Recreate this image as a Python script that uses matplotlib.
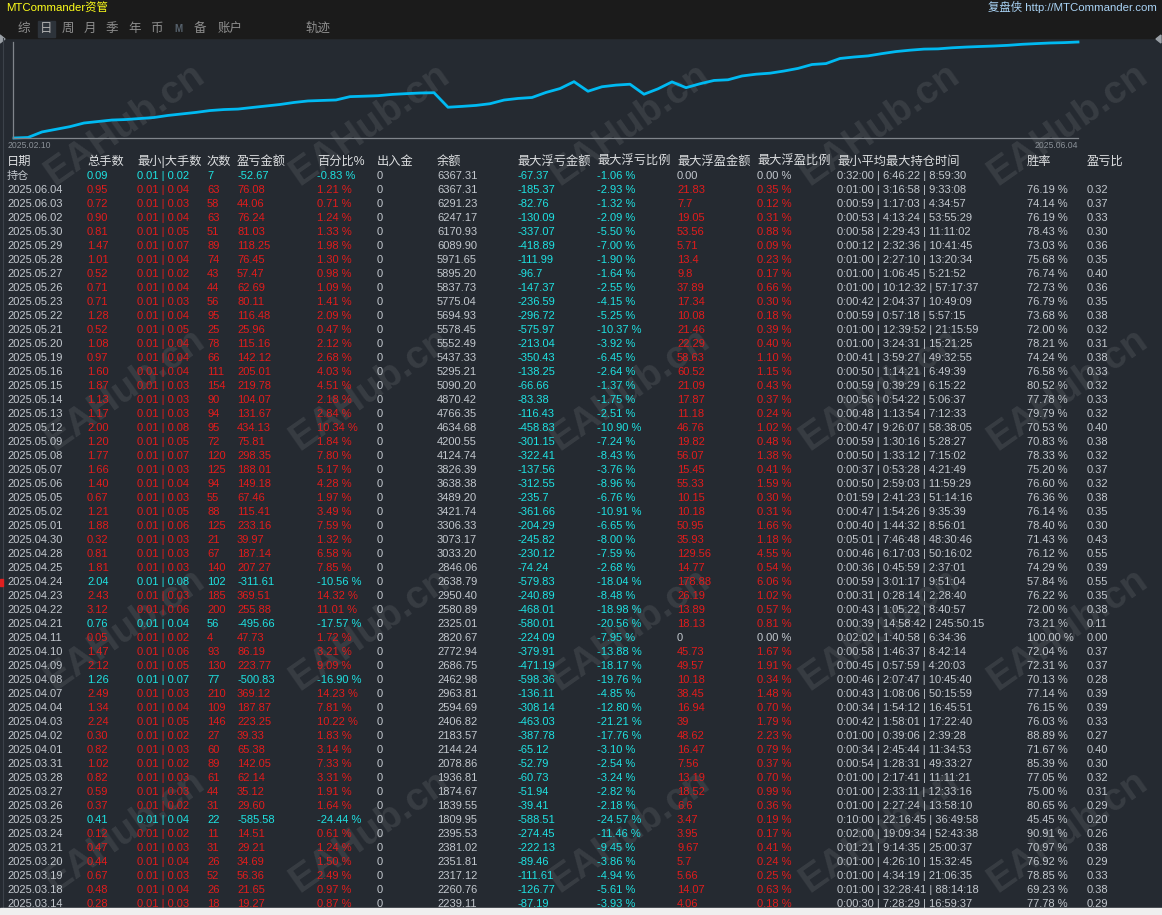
import matplotlib
matplotlib.use('Agg')
import matplotlib.pyplot as plt
from matplotlib.patches import Rectangle, Polygon
from matplotlib.ticker import NullLocator

plt.rcParams['font.family'] = ['Liberation Sans', 'Noto Sans CJK SC']

# ---- daily table, newest first ----
dates = ['2025.06.04', '2025.06.03', '2025.06.02', '2025.05.30', '2025.05.29', '2025.05.28', '2025.05.27',
         '2025.05.26', '2025.05.23', '2025.05.22', '2025.05.21', '2025.05.20', '2025.05.19', '2025.05.16',
         '2025.05.15', '2025.05.14', '2025.05.13', '2025.05.12', '2025.05.09', '2025.05.08', '2025.05.07',
         '2025.05.06', '2025.05.05', '2025.05.02', '2025.05.01', '2025.04.30', '2025.04.28', '2025.04.25',
         '2025.04.24', '2025.04.23', '2025.04.22', '2025.04.21', '2025.04.11', '2025.04.10', '2025.04.09',
         '2025.04.08', '2025.04.07', '2025.04.04', '2025.04.03', '2025.04.02', '2025.04.01', '2025.03.31',
         '2025.03.28', '2025.03.27', '2025.03.26', '2025.03.25', '2025.03.24', '2025.03.21', '2025.03.20',
         '2025.03.19', '2025.03.18', '2025.03.14']
lots = ['0.95', '0.72', '0.90', '0.81', '1.47', '1.01', '0.52', '0.71', '0.71', '1.28', '0.52', '1.08', '0.97',
        '1.60', '1.87', '1.13', '1.17', '2.00', '1.20', '1.77', '1.66', '1.40', '0.67', '1.21', '1.88', '0.32',
        '0.81', '1.81', '2.04', '2.43', '3.12', '0.76', '0.05', '1.47', '2.12', '1.26', '2.49', '1.34', '2.24',
        '0.30', '0.82', '1.02', '0.82', '0.59', '0.37', '0.41', '0.12', '0.47', '0.44', '0.67', '0.48', '0.28']
max_lot = ['0.04', '0.03', '0.04', '0.05', '0.07', '0.04', '0.02', '0.04', '0.03', '0.04', '0.05', '0.04', '0.04',
           '0.04', '0.03', '0.03', '0.03', '0.08', '0.05', '0.07', '0.03', '0.04', '0.03', '0.05', '0.06', '0.03',
           '0.03', '0.03', '0.08', '0.03', '0.06', '0.04', '0.02', '0.06', '0.05', '0.07', '0.03', '0.04', '0.05',
           '0.02', '0.03', '0.02', '0.03', '0.03', '0.02', '0.04', '0.02', '0.03', '0.04', '0.03', '0.04', '0.03']
trades = ['63', '58', '63', '51', '89', '74', '43', '44', '56', '95', '25', '78', '66', '111', '154', '90', '94',
          '95', '72', '120', '125', '94', '55', '88', '125', '21', '67', '140', '102', '185', '200', '56', '4',
          '93', '130', '77', '210', '109', '146', '27', '60', '89', '61', '44', '31', '22', '11', '31', '26', '52',
          '26', '18']
pnl = ['76.08', '44.06', '76.24', '81.03', '118.25', '76.45', '57.47', '62.69', '80.11', '116.48', '25.96',
       '115.16', '142.12', '205.01', '219.78', '104.07', '131.67', '434.13', '75.81', '298.35', '188.01',
       '149.18', '67.46', '115.41', '233.16', '39.97', '187.14', '207.27', '-311.61', '369.51', '255.88',
       '-495.66', '47.73', '86.19', '223.77', '-500.83', '369.12', '187.87', '223.25', '39.33', '65.38',
       '142.05', '62.14', '35.12', '29.60', '-585.58', '14.51', '29.21', '34.69', '56.36', '21.65', '19.27']
pnl_pct = ['1.21 %', '0.71 %', '1.24 %', '1.33 %', '1.98 %', '1.30 %', '0.98 %', '1.09 %', '1.41 %', '2.09 %',
           '0.47 %', '2.12 %', '2.68 %', '4.03 %', '4.51 %', '2.18 %', '2.84 %', '10.34 %', '1.84 %', '7.80 %',
           '5.17 %', '4.28 %', '1.97 %', '3.49 %', '7.59 %', '1.32 %', '6.58 %', '7.85 %', '-10.56 %', '14.32 %',
           '11.01 %', '-17.57 %', '1.72 %', '3.21 %', '9.09 %', '-16.90 %', '14.23 %', '7.81 %', '10.22 %',
           '1.83 %', '3.14 %', '7.33 %', '3.31 %', '1.91 %', '1.64 %', '-24.44 %', '0.61 %', '1.24 %', '1.50 %',
           '2.49 %', '0.97 %', '0.87 %']
balance = [6367.31, 6291.23, 6247.17, 6170.93, 6089.90, 5971.65, 5895.20, 5837.73, 5775.04, 5694.93, 5578.45,
           5552.49, 5437.33, 5295.21, 5090.20, 4870.42, 4766.35, 4634.68, 4200.55, 4124.74, 3826.39, 3638.38,
           3489.20, 3421.74, 3306.33, 3073.17, 3033.20, 2846.06, 2638.79, 2950.40, 2580.89, 2325.01, 2820.67,
           2772.94, 2686.75, 2462.98, 2963.81, 2594.69, 2406.82, 2183.57, 2144.24, 2078.86, 1936.81, 1874.67,
           1839.55, 1809.95, 2395.53, 2381.02, 2351.81, 2317.12, 2260.76, 2239.11]
max_loss = ['-185.37', '-82.76', '-130.09', '-337.07', '-418.89', '-111.99', '-96.7', '-147.37', '-236.59',
            '-296.72', '-575.97', '-213.04', '-350.43', '-138.25', '-66.66', '-83.38', '-116.43', '-458.83',
            '-301.15', '-322.41', '-137.56', '-312.55', '-235.7', '-361.66', '-204.29', '-245.82', '-230.12',
            '-74.24', '-579.83', '-240.89', '-468.01', '-580.01', '-224.09', '-379.91', '-471.19', '-598.36',
            '-136.11', '-308.14', '-463.03', '-387.78', '-65.12', '-52.79', '-60.73', '-51.94', '-39.41',
            '-588.51', '-274.45', '-222.13', '-89.46', '-111.61', '-126.77', '-87.19']
max_loss_pct = ['-2.93 %', '-1.32 %', '-2.09 %', '-5.50 %', '-7.00 %', '-1.90 %', '-1.64 %', '-2.55 %',
                '-4.15 %', '-5.25 %', '-10.37 %', '-3.92 %', '-6.45 %', '-2.64 %', '-1.37 %', '-1.75 %',
                '-2.51 %', '-10.90 %', '-7.24 %', '-8.43 %', '-3.76 %', '-8.96 %', '-6.76 %', '-10.91 %',
                '-6.65 %', '-8.00 %', '-7.59 %', '-2.68 %', '-18.04 %', '-8.48 %', '-18.98 %', '-20.56 %',
                '-7.95 %', '-13.88 %', '-18.17 %', '-19.76 %', '-4.85 %', '-12.80 %', '-21.21 %', '-17.76 %',
                '-3.10 %', '-2.54 %', '-3.24 %', '-2.82 %', '-2.18 %', '-24.57 %', '-11.46 %', '-9.45 %',
                '-3.86 %', '-4.94 %', '-5.61 %', '-3.93 %']
max_gain = ['21.83', '7.7', '19.05', '53.56', '5.71', '13.4', '9.8', '37.89', '17.34', '10.08', '21.46', '22.29',
            '58.63', '60.52', '21.09', '17.87', '11.18', '46.76', '19.82', '56.07', '15.45', '55.33', '10.15',
            '10.18', '50.95', '35.93', '129.56', '14.77', '178.88', '26.19', '13.89', '18.13', '0', '45.73',
            '49.57', '10.18', '38.45', '16.94', '39', '48.62', '16.47', '7.56', '13.19', '18.52', '6.6', '3.47',
            '3.95', '9.67', '5.7', '5.66', '14.07', '4.06']
max_gain_pct = ['0.35 %', '0.12 %', '0.31 %', '0.88 %', '0.09 %', '0.23 %', '0.17 %', '0.66 %', '0.30 %',
                '0.18 %', '0.39 %', '0.40 %', '1.10 %', '1.15 %', '0.43 %', '0.37 %', '0.24 %', '1.02 %',
                '0.48 %', '1.38 %', '0.41 %', '1.59 %', '0.30 %', '0.31 %', '1.66 %', '1.18 %', '4.55 %',
                '0.54 %', '6.06 %', '1.02 %', '0.57 %', '0.81 %', '0.00 %', '1.67 %', '1.91 %', '0.34 %',
                '1.48 %', '0.70 %', '1.79 %', '2.23 %', '0.79 %', '0.37 %', '0.70 %', '0.99 %', '0.36 %',
                '0.19 %', '0.17 %', '0.41 %', '0.24 %', '0.25 %', '0.63 %', '0.18 %']
hold_time = ['0:01:00|3:16:58|9:33:08', '0:00:59|1:17:03|4:34:57', '0:00:53|4:13:24|53:55:29',
             '0:00:58|2:29:43|11:11:02', '0:00:12|2:32:36|10:41:45', '0:01:00|2:27:10|13:20:34',
             '0:01:00|1:06:45|5:21:52', '0:01:00|10:12:32|57:17:37', '0:00:42|2:04:37|10:49:09',
             '0:00:59|0:57:18|5:57:15', '0:01:00|12:39:52|21:15:59', '0:01:00|3:24:31|15:21:25',
             '0:00:41|3:59:27|49:32:55', '0:00:50|1:14:21|6:49:39', '0:00:59|0:39:29|6:15:22',
             '0:00:56|0:54:22|5:06:37', '0:00:48|1:13:54|7:12:33', '0:00:47|9:26:07|58:38:05',
             '0:00:59|1:30:16|5:28:27', '0:00:50|1:33:12|7:15:02', '0:00:37|0:53:28|4:21:49',
             '0:00:50|2:59:03|11:59:29', '0:01:59|2:41:23|51:14:16', '0:00:47|1:54:26|9:35:39',
             '0:00:40|1:44:32|8:56:01', '0:05:01|7:46:48|48:30:46', '0:00:46|6:17:03|50:16:02',
             '0:00:36|0:45:59|2:37:01', '0:00:59|3:01:17|9:51:04', '0:00:31|0:28:14|2:28:40',
             '0:00:43|1:05:22|8:40:57', '0:00:39|14:58:42|245:50:15', '0:02:02|1:40:58|6:34:36',
             '0:00:58|1:46:37|8:42:14', '0:00:45|0:57:59|4:20:03', '0:00:46|2:07:47|10:45:40',
             '0:00:43|1:08:06|50:15:59', '0:00:34|1:54:12|16:45:51', '0:00:42|1:58:01|17:22:40',
             '0:01:00|0:39:06|2:39:28', '0:00:34|2:45:44|11:34:53', '0:00:54|1:28:31|49:33:27',
             '0:01:00|2:17:41|11:11:21', '0:01:00|2:33:11|12:33:16', '0:01:00|2:27:24|13:58:10',
             '0:10:00|22:16:45|36:49:58', '0:02:00|19:09:34|52:43:38', '0:01:21|9:14:35|25:00:37',
             '0:01:00|4:26:10|15:32:45', '0:01:00|4:34:19|21:06:35', '0:01:00|32:28:41|88:14:18',
             '0:00:30|7:28:29|16:59:37']
win_rate = ['76.19 %', '74.14 %', '76.19 %', '78.43 %', '73.03 %', '75.68 %', '76.74 %', '72.73 %', '76.79 %',
            '73.68 %', '72.00 %', '78.21 %', '74.24 %', '76.58 %', '80.52 %', '77.78 %', '79.79 %', '70.53 %',
            '70.83 %', '78.33 %', '75.20 %', '76.60 %', '76.36 %', '76.14 %', '78.40 %', '71.43 %', '76.12 %',
            '74.29 %', '57.84 %', '76.22 %', '72.00 %', '73.21 %', '100.00 %', '72.04 %', '72.31 %', '70.13 %',
            '77.14 %', '76.15 %', '76.03 %', '88.89 %', '71.67 %', '85.39 %', '77.05 %', '75.00 %', '80.65 %',
            '45.45 %', '90.91 %', '70.97 %', '76.92 %', '78.85 %', '69.23 %', '77.78 %']
pl_ratio = ['0.32', '0.37', '0.33', '0.30', '0.36', '0.35', '0.40', '0.36', '0.35', '0.38', '0.32', '0.31', '0.38',
            '0.33', '0.32', '0.33', '0.32', '0.40', '0.38', '0.32', '0.37', '0.32', '0.38', '0.35', '0.30', '0.43',
            '0.55', '0.39', '0.55', '0.35', '0.38', '0.11', '0.00', '0.37', '0.37', '0.28', '0.39', '0.39', '0.33',
            '0.27', '0.40', '0.30', '0.32', '0.31', '0.29', '0.20', '0.26', '0.38', '0.29', '0.33', '0.38', '0.29']

# open positions row
open_row = ['持仓', '0.09', '0.01 | 0.02', '7', '-52.67', '-0.83 %', '0', '6367.31', '-67.37', '-1.06 %',
            '0.00', '0.00 %', '0:32:00 | 6:46:22 | 8:59:30', '', '']

headers = ['日期', '总手数', '最小|大手数', '次数', '盈亏金额', '百分比%', '出入金', '余额', '最大浮亏金额',
           '最大浮亏比例', '最大浮盈金额', '最大浮盈比例', '最小平均最大持仓时间', '胜率', '盈亏比']

# balance curve before the visible table rows
curve_start = '2025.02.10'
early_balance = [1000, 1010, 1124, 1183, 1245, 1335, 1374, 1414, 1428, 1456, 1485, 1545, 1591,
                 1638, 1698, 1731, 1747, 1800, 1853, 1908, 1984, 2043, 2063, 2082, 2220]

tabs = [('综', 18), ('日', 40), ('周', 62), ('月', 84), ('季', 106), ('年', 128), ('币', 150),
        ('备', 194), ('账户', 218), ('轨迹', 305)]

BG = '#252a31'
RED = '#e21c1c'
CYAN = '#1ee2e2'
GRAY = '#c3c8ce'
HEAD = '#dcdee0'

W, H = 1162, 915
fig = plt.figure(figsize=(W / 100, H / 100), dpi=100, facecolor=BG)
bg = fig.add_axes([0, 0, 1, 1])
bg.set_xlim(0, W)
bg.set_ylim(H, 0)
bg.axis('off')

bg.add_patch(Rectangle((0, 0), W, 38, color='#1b1b1b', zorder=0))
bg.add_patch(Rectangle((38, 21), 17, 16, color='#2d333a', zorder=1))
bg.add_patch(Polygon([(0, 35), (5, 39), (0, 43)], color='#9aa0a6', zorder=1))
bg.add_patch(Polygon([(1161, 35), (1156, 39), (1161, 43)], color='#9aa0a6', zorder=1))
bg.plot([3, 3], [38, 908], color='#3c424a', lw=0.8)
bg.add_patch(Rectangle((0, 579), 3, 7, color='#e02020', zorder=2))
bg.add_patch(Rectangle((0, 908), W, 7, color='#efefef', zorder=5))

# header bar
bg.text(6, 7, 'MTCommander资管', color='#ffff1a', fontsize=8.2, va='center')
bg.text(1157, 7, '复盘侠 http://MTCommander.com', color='#a9d3f5', fontsize=8.2, va='center', ha='right')
for label, x in tabs:
    bg.text(x, 29, label, color='#8e8e8e' if label != '日' else '#b0b0b0', fontsize=9, va='center')
bg.text(174, 29, 'M', color='#56616c', fontsize=7, fontweight='bold', va='center')

# watermark
for wx in [125, 370, 630, 880, 1068]:
    for wy in [125, 390, 630, 832]:
        bg.text(wx, wy, 'EAHub.cn', rotation=35, fontsize=28, fontweight='bold', color='white',
                alpha=0.09, ha='center', va='center', rotation_mode='anchor', zorder=3)

# equity curve
curve = early_balance + balance[::-1]
ax = fig.add_axes([13 / W, (H - 138) / H, 1065 / W, 96 / H], zorder=2)
ax.set_facecolor('none')
ax.plot(range(len(curve)), curve, color='#00baf2', lw=2.0, clip_on=False)
ax.set_yscale('log')
ax.set_xlim(-1 / 14, len(curve) - 1)
ax.set_ylim(min(curve), max(curve))
ax.set_xticks([])
ax.set_yticks([])
ax.yaxis.set_minor_locator(NullLocator())
for side in ['top', 'right']:
    ax.spines[side].set_visible(False)
for side in ['left', 'bottom']:
    ax.spines[side].set_color('#80858b')
    ax.spines[side].set_linewidth(0.9)
bg.text(8, 146, curve_start, color='#8a9097', fontsize=6.2, va='center')
bg.text(1078, 146, dates[0], color='#8a9097', fontsize=6.2, va='center', ha='right')

# table
col_x = [7, 87, 137, 207, 237, 317, 377, 437, 517, 597, 677, 757, 837, 1027, 1087]
for label, x in zip(headers, col_x):
    bg.text(x, 162, label, color=HEAD, fontsize=8.8, va='center')


def draw_row(cells, y):
    sign_col = CYAN if cells[4].startswith('-') else RED
    for j, (txt, x) in enumerate(zip(cells, col_x)):
        if 1 <= j <= 5:
            c = sign_col
        elif j in (8, 9):
            c = CYAN
        elif j in (10, 11):
            c = GRAY if txt in ('0', '0.00', '0.00 %') else RED
        else:
            c = GRAY
        bg.text(x, y, txt, color=c, fontsize=8, va='center', zorder=4)


draw_row(open_row, 176)
for i in range(len(dates)):
    cells = [dates[i], lots[i], '0.01 | ' + max_lot[i], trades[i], pnl[i], pnl_pct[i], '0',
             f'{balance[i]:.2f}', max_loss[i], max_loss_pct[i], max_gain[i], max_gain_pct[i],
             hold_time[i].replace('|', ' | '), win_rate[i], pl_ratio[i]]
    draw_row(cells, 190 + 14 * i)

fig.savefig('out.png', dpi=100, facecolor=BG)
